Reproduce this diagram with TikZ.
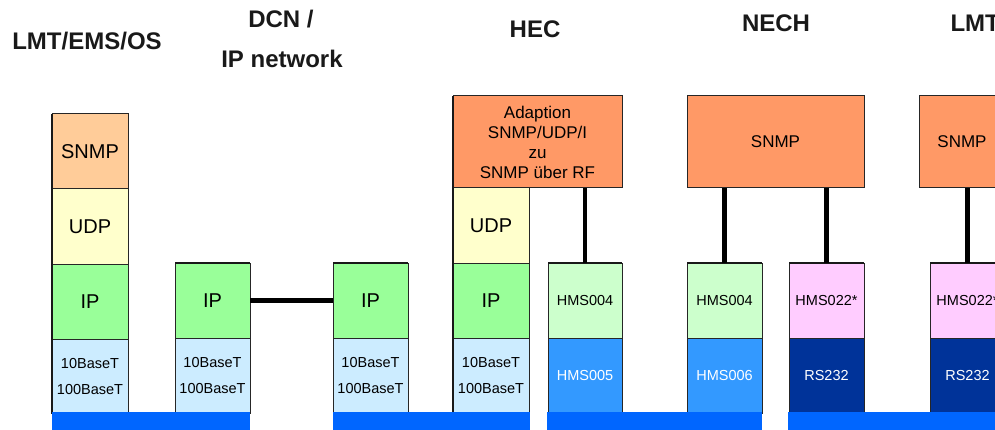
\documentclass[tikz,border=0pt]{standalone}
\usepackage{fontspec}
\setmainfont{Liberation Sans}
\usetikzlibrary{positioning}

\definecolor{snmplight}{HTML}{FFCC99}
\definecolor{snmpdark}{HTML}{FF9966}
\definecolor{udpcol}{HTML}{FFFFCC}
\definecolor{ipcol}{HTML}{99FF99}
\definecolor{ethcol}{HTML}{CCECFF}
\definecolor{hmsgreen}{HTML}{CCFFCC}
\definecolor{hmsblue}{HTML}{3399FF}
\definecolor{hmspink}{HTML}{FFCCFF}
\definecolor{rsblue}{HTML}{003399}
\definecolor{buscol}{HTML}{0066FF}

\tikzset{
  layer/.style={draw=black!85, line width=1pt, inner sep=0pt, outer sep=0pt,
    minimum width=76pt, minimum height=75pt, align=center,
    font=\fontsize{20}{22}\selectfont},
  small/.style={font=\fontsize{14.5}{26}\selectfont},
  title/.style={anchor=base, font=\fontsize{24}{28}\selectfont\bfseries, text=black!90},
  link/.style={line width=4.5pt},
  edge/.style={line width=2.5pt, black!90}
}

\begin{document}
\begin{tikzpicture}[x=1pt, y=-1pt]
    \clip (0,0) rectangle (995,430);

    \node[title] (tLMT) at (87,50){LMT/EMS/OS};
    \node[title] (tDCN) at (281,28){DCN /};
    \node[title] (tIPN) at (282,68){IP network};
    \node[title] (tHEC) at (535,38){HEC};
    \node[title] (tNECH) at (776,32){NECH};
    \node[title, anchor=base west] (tLMTr) at (947,32){LMT};

    % LMT/EMS/OS stack
    \node[layer, fill=snmplight, anchor=north west] (snmpA) at (52,114){SNMP};
    \node[layer, fill=udpcol, below=0pt of snmpA] (udpA){UDP};
    \node[layer, fill=ipcol, below=0pt of udpA] (ipA){IP};
    \node[layer, small, fill=ethcol, below=0pt of ipA] (ethA){10BaseT\\100BaseT};

    % DCN / IP network
    \node[layer, fill=ipcol, anchor=north west, minimum width=75pt] (ipB) at (175,263){IP};
    \node[layer, small, fill=ethcol, minimum width=75pt, below=0pt of ipB] (ethB){10BaseT\\100BaseT};
    \node[layer, fill=ipcol, anchor=north west, minimum width=75pt] (ipC) at (333,263){IP};
    \node[layer, small, fill=ethcol, minimum width=75pt, below=0pt of ipC] (ethC){10BaseT\\100BaseT};

    % HEC
    \node[layer, fill=snmpdark, anchor=north west, minimum width=169pt, minimum height=92pt,
      font=\fontsize{17}{20}\selectfont] (adapt) at (453,96){Adaption\\SNMP/UDP/I\\zu\\SNMP über RF};
    \node[layer, fill=udpcol, anchor=north west] (udpD) at (453,188){UDP};
    \node[layer, fill=ipcol, below=0pt of udpD] (ipD){IP};
    \node[layer, small, fill=ethcol, below=0pt of ipD] (ethD){10BaseT\\100BaseT};
    \node[layer, small, fill=hmsgreen, anchor=north west, minimum width=74pt] (hmsD) at (548,263){HMS004};
    \node[layer, small, fill=hmsblue, text=white, minimum width=74pt, below=0pt of hmsD] (rfD){HMS005};

    % NECH
    \node[layer, fill=snmpdark, anchor=north west, minimum width=177pt, minimum height=92pt,
      font=\fontsize{17}{20}\selectfont] (snmpE) at (687,96){SNMP};
    \node[layer, small, fill=hmsgreen, anchor=north west, minimum width=75pt] (hmsE) at (687,263){HMS004};
    \node[layer, small, fill=hmsblue, text=white, minimum width=75pt, below=0pt of hmsE] (rfE){HMS006};
    \node[layer, small, fill=hmspink, anchor=north west, minimum width=75pt] (hmsF) at (789,263){HMS022*};
    \node[layer, small, fill=rsblue, text=white, minimum width=75pt, below=0pt of hmsF] (rsF){RS232};

    % LMT (right edge)
    \node[layer, fill=snmpdark, anchor=north west, minimum width=86pt, minimum height=92pt,
      font=\fontsize{17}{20}\selectfont] (snmpG) at (919,96){SNMP};
    \node[layer, small, fill=hmspink, anchor=north west, minimum width=75pt] (hmsG) at (930,263){HMS022*};
    \node[layer, small, fill=rsblue, text=white, minimum width=75pt, below=0pt of hmsG] (rsG){RS232};

    % thicker outer edges
    \draw[edge](snmpA.north west)--(ethA.south west);
    \draw[edge](adapt.north west)--(ethD.south west);
    \draw[edge](ipB.north west)--(ipB.north east);
    \draw[edge](ipC.north west)--(ipC.north east);
    \draw[edge](hmsD.north west)--(hmsD.north east);
    \draw[edge](hmsE.north west)--(hmsE.north east);
    \draw[edge](hmsF.north west)--(hmsF.north east);
    \draw[edge](hmsG.north west)--(hmsG.north east);

    % connectors
    \draw[link](ipB.east)--(ipC.west);
    \draw[link](hmsD.north)--(hmsD.north |- adapt.south);
    \draw[link](hmsE.north)--(hmsE.north |- snmpE.south);
    \draw[link](hmsF.north)--(hmsF.north |- snmpE.south);
    \draw[link](hmsG.north)--(hmsG.north |- snmpG.south);

    % bus lines
    \fill[buscol](52,412) rectangle (250,432);
    \fill[buscol](333,412) rectangle (530,432);
    \fill[buscol](547,412) rectangle (762,432);
    \fill[buscol](788,412) rectangle (1000,432);
\end{tikzpicture}
\end{document}
